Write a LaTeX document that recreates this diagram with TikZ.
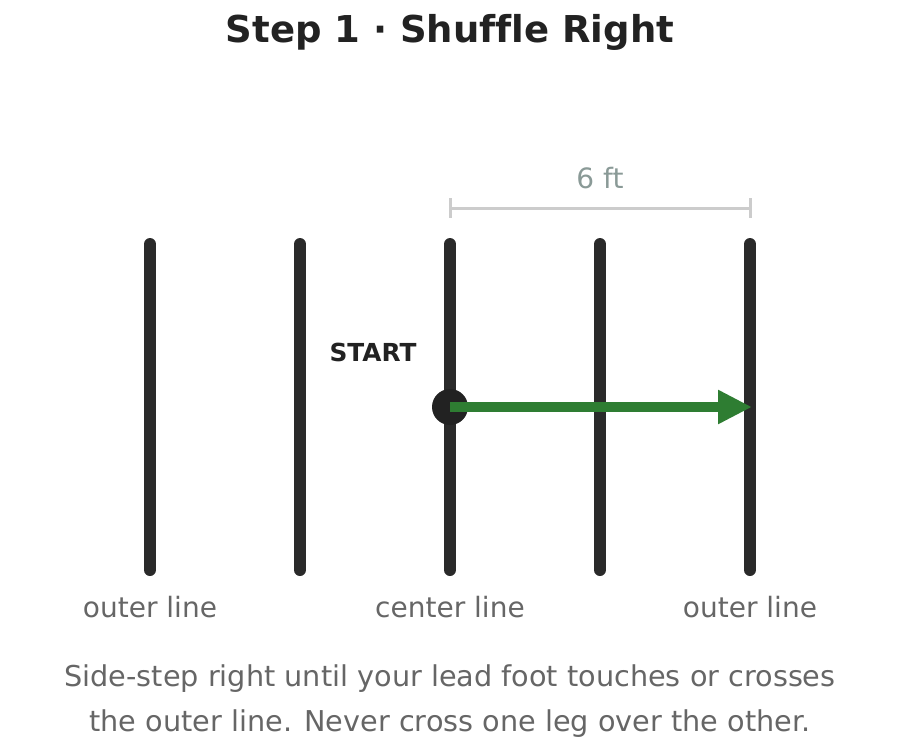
\documentclass[tikz,border=0pt]{standalone}
\usepackage{fontspec}
\setmainfont{DejaVu Sans}[Ligatures=NoCommon]
\usetikzlibrary{arrows.meta}
\definecolor{laneink}{HTML}{2A2A2A}
\definecolor{darkink}{HTML}{222222}
\definecolor{softink}{HTML}{666666}
\definecolor{dimgray}{HTML}{CCCCCC}
\definecolor{dimtext}{HTML}{8A9A97}
\definecolor{movegreen}{HTML}{2E7D32}
\tikzset{
  lane/.style={draw=laneink, line width=12pt, line cap=round},
  dimline/.style={draw=dimgray, line width=3pt},
  spot/.style={circle, fill=darkink, minimum size=36pt, inner sep=0pt},
  move/.style={draw=movegreen, line width=10pt, -{Triangle[length=34pt,width=32pt]}},
  lanelabel/.style={anchor=base, text=softink, font=\fontsize{28}{33}\selectfont},
  caption/.style={anchor=base, text=softink, font=\fontsize{28.7}{34}\selectfont}
}
\begin{document}
\begin{tikzpicture}[x=1pt,y=-1pt]
  \useasboundingbox (0,0) rectangle (900,755);
  \def\ytop{244}
  \def\ybot{570}
  \def\ymove{407}
  % title
  \node[anchor=base, text=darkink, font=\bfseries\fontsize{37}{44}\selectfont] (title) at (450,42) {Step 1 · Shuffle Right};
  % the five lanes
  \foreach \i/\x in {1/150,2/300,3/450,4/600,5/750} {
    \coordinate (T\i) at (\x,\ytop);
    \coordinate (B\i) at (\x,\ybot);
    \draw[lane] (T\i) -- (B\i);
  }
  % spacing between center and outer line
  \coordinate (dimL) at (450,208);
  \coordinate (dimR) at (750,208);
  \draw[dimline] (dimL) -- (dimR);
  \draw[dimline] (450,198) -- (450,218);
  \draw[dimline] (750,198) -- (750,218);
  \node[anchor=base, text=dimtext, font=\fontsize{28}{33}\selectfont] (dist) at (600,188) {6 ft};
  % start point and shuffle
  \node[anchor=base, text=darkink, font=\bfseries\fontsize{24.8}{30}\selectfont] (startlbl) at (373,361) {START};
  \node[spot] (start) at (450,\ymove) {};
  \coordinate (stop) at (752,\ymove);
  \draw[move] (start.center) -- (stop);
  % lane names
  \node[lanelabel] (outerL) at (150,617) {outer line};
  \node[lanelabel] (center) at (450,617) {center line};
  \node[lanelabel] (outerR) at (750,617) {outer line};
  % caption
  \node[caption] (cap1) at (450,686) {Side-step right until your lead foot touches or crosses};
  \node[caption] (cap2) at (450,731) {the outer line. Never cross one leg over the other.};
\end{tikzpicture}
\end{document}
